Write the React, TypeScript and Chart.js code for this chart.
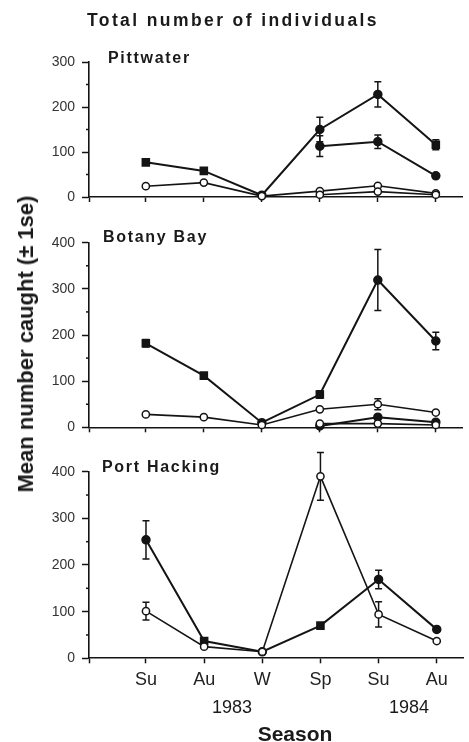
import React, { useEffect, useRef } from 'react';
import { Chart, registerables } from 'chart.js';

Chart.register(...registerables);

// ---------------- data ----------------
const SEASONS = ['Su', 'Au', 'W', 'Sp', 'Su', 'Au'];
const YEARS = ['1983', '1984'];
const TITLE = 'Total number of individuals';
const Y_TITLE = 'Mean number caught (\u00b1 1se)';
const X_TITLE = 'Season';
const PANEL_NAMES = ['Pittwater', 'Botany Bay', 'Port Hacking'];
const PANEL_MAX = [300, 400, 400];

// Pittwater
const PW_FILLED_A = [77, 58, 4, 150, 228, 116];
const PW_FILLED_A_SE = [6, 4, 0, 27, 28, 11];
const PW_FILLED_B = [null, null, null, 113, 123, 47];
const PW_FILLED_B_SE = [0, 0, 0, 23, 15, 3];
const PW_OPEN_A = [24, 32, 2, 13, 25, 8];
const PW_OPEN_A_SE = [0, 0, 0, 0, 0, 0];
const PW_OPEN_B = [null, null, null, 5, 12, 5];
const PW_OPEN_B_SE = [0, 0, 0, 0, 0, 0];

// Botany Bay
const BB_FILLED_A = [182, 112, 10, 71, 319, 187];
const BB_FILLED_A_SE = [8, 3, 0, 8, 66, 19];
const BB_FILLED_B = [null, null, null, 3, 22, 11];
const BB_FILLED_B_SE = [0, 0, 0, 0, 0, 0];
const BB_OPEN_A = [28, 22, 5, 39, 50, 32];
const BB_OPEN_A_SE = [0, 0, 0, 0, 12, 0];
const BB_OPEN_B = [null, null, null, 8, 8, 5];
const BB_OPEN_B_SE = [0, 0, 0, 0, 0, 0];

// Port Hacking
const PH_FILLED = [254, 37, 14, 70, 169, 62];
const PH_FILLED_SE = [41, 0, 0, 5, 20, 0];
const PH_OPEN = [101, 25, 14, 390, 94, 37];
const PH_OPEN_SE = [19, 0, 0, 51, 27, 0];

// marker shapes of the filled series (styling only)
const PW_FILLED_A_SHAPE = ['rect', 'rect', 'circle', 'circle', 'circle', 'rect'];
const BB_FILLED_A_SHAPE = ['rect', 'rect', 'circle', 'rect', 'circle', 'circle'];
const PH_FILLED_SHAPE = ['circle', 'rect', 'circle', 'rect', 'circle', 'circle'];

// ---------------- layout ----------------
const W = 469;
const X_MIN = -0.98;
const X_MAX = 5.46;
const Y_AXIS_X = 89;
const FONT = "'Liberation Sans', Arial, Helvetica, sans-serif";
const INK = '#141414';

type Series = { values: (number | null)[]; se: number[]; filled: boolean; shape?: string[] };

const errorBarPlugin = {
  id: 'errbars',
  beforeDatasetsDraw(chart: any) {
    const { ctx, scales } = chart;
    const x = scales.x;
    const y = scales.y;
    ctx.save();
    ctx.strokeStyle = INK;
    ctx.lineWidth = 1.5;
    chart.data.datasets.forEach((ds: any) => {
      const se: number[] = ds.se || [];
      ds.data.forEach((pt: any) => {
        const e = se[pt.x];
        if (!e) return;
        const px = x.getPixelForValue(pt.x);
        const top = y.getPixelForValue(pt.y + e);
        const bot = y.getPixelForValue(pt.y - e);
        ctx.beginPath();
        ctx.moveTo(px, top);
        ctx.lineTo(px, bot);
        ctx.moveTo(px - 3.5, top);
        ctx.lineTo(px + 3.5, top);
        ctx.moveTo(px - 3.5, bot);
        ctx.lineTo(px + 3.5, bot);
        ctx.stroke();
      });
    });
    ctx.restore();
  },
  afterDraw(chart: any) {
    const { ctx, scales } = chart;
    const y = scales.y;
    ctx.save();
    ctx.strokeStyle = INK;
    ctx.lineWidth = 1.5;
    for (let v = 50; v < y.max; v += 100) {
      const py = y.getPixelForValue(v);
      ctx.beginPath();
      ctx.moveTo(y.right - 3, py);
      ctx.lineTo(y.right, py);
      ctx.stroke();
    }
    ctx.restore();
  },
};

function Panel(props: {
  top: number;
  height: number;
  areaTop: number;
  areaBottom: number;
  max: number;
  series: Series[];
  showLabels: boolean;
}) {
  const ref = useRef<HTMLCanvasElement | null>(null);
  useEffect(() => {
    const canvas = ref.current!;
    const xAxisHeight = props.height - (props.areaBottom - props.top);
    const padTop = props.areaTop - props.top;
    const datasets = props.series.map((s) => {
      const pts = s.values
        .map((v, i) => (v == null ? null : { x: i, y: v }))
        .filter((p) => p !== null) as { x: number; y: number }[];
      const shapes = pts.map((p) => (s.shape ? s.shape[p.x] : 'circle'));
      return {
        data: pts,
        se: s.se,
        borderColor: INK,
        borderWidth: s.filled ? 2 : 1.6,
        pointStyle: shapes,
        pointRadius: shapes.map((sh) => (sh === 'rect' ? 5 : s.filled ? 4 : 3.6)),
        pointHoverRadius: 4,
        pointBackgroundColor: s.filled ? INK : '#ffffff',
        pointBorderColor: INK,
        pointBorderWidth: 1.5,
        tension: 0,
        fill: false,
        clip: false as any,
      };
    });
    const chart = new Chart(canvas, {
      type: 'line',
      data: { datasets: datasets as any },
      plugins: [errorBarPlugin],
      options: {
        responsive: false,
        animation: false,
        events: [],
        layout: { padding: { top: padTop, left: 0, right: 0, bottom: 0 } },
        plugins: { legend: { display: false }, tooltip: { enabled: false }, title: { display: false } },
        scales: {
          x: {
            type: 'linear',
            min: X_MIN,
            max: X_MAX,
            afterBuildTicks: (s: any) => {
              s.ticks = [X_MIN, 0, 1, 2, 3, 4, 5].map((v) => ({ value: v }));
            },
            afterFit: (s: any) => {
              s.height = xAxisHeight;
              s.paddingLeft = 0;
              s.paddingRight = 0;
            },
            grid: {
              display: true,
              drawOnChartArea: false,
              drawTicks: true,
              tickLength: 5,
              tickWidth: 1.5,
              tickColor: INK,
            },
            border: { display: true, color: INK, width: 1.6 },
            ticks: {
              autoSkip: false,
              maxRotation: 0,
              padding: 6,
              color: '#222',
              font: { family: FONT, size: 18 },
              callback: (v: any) => {
                const i = Math.round(Number(v));
                if (!props.showLabels) return '';
                if (Math.abs(Number(v) - i) > 1e-6 || i < 0 || i > 5) return '';
                return SEASONS[i];
              },
            },
          },
          y: {
            type: 'linear',
            min: 0,
            max: props.max,
            afterFit: (s: any) => {
              s.width = Y_AXIS_X;
              s.paddingTop = 0;
              s.paddingBottom = 0;
            },
            grid: {
              display: true,
              drawOnChartArea: false,
              drawTicks: true,
              tickLength: 7,
              tickWidth: 1.5,
              tickColor: (c: any) =>
                c.tick && c.tick.value % 100 === 0 ? INK : 'rgba(0,0,0,0)',
            },
            border: { display: true, color: INK, width: 1.6 },
            ticks: {
              stepSize: 50,
              autoSkip: false,
              padding: 7,
              color: '#333',
              font: { family: FONT, size: 14 },
              callback: (v: any) => (Number(v) % 100 === 0 ? String(v) : ''),
            },
          },
        },
      } as any,
    });
    return () => chart.destroy();
  }, []);
  return (
    <canvas
      ref={ref}
      width={W}
      height={props.height}
      style={{ position: 'absolute', left: 0, top: props.top, display: 'block' }}
    />
  );
}

const textBase: React.CSSProperties = {
  position: 'absolute',
  fontFamily: FONT,
  color: '#1a1a1a',
  lineHeight: 1,
  whiteSpace: 'nowrap',
  margin: 0,
};

function Label(props: { text: string; left: number; baseline: number; size: number; bold?: boolean; spacing?: number; center?: boolean }) {
  const top = props.baseline - 0.8465 * props.size;
  return (
    <div
      style={{
        ...textBase,
        left: props.left,
        top,
        fontSize: props.size,
        fontWeight: props.bold ? 'bold' : 'normal',
        letterSpacing: props.spacing ? props.spacing + 'px' : 'normal',
        transform: props.center ? 'translateX(-50%)' : undefined,
      }}
    >
      {props.text}
    </div>
  );
}

export default function App() {
  const pw: Series[] = [
    { values: PW_OPEN_B, se: PW_OPEN_B_SE, filled: false },
    { values: PW_OPEN_A, se: PW_OPEN_A_SE, filled: false },
    { values: PW_FILLED_B, se: PW_FILLED_B_SE, filled: true },
    { values: PW_FILLED_A, se: PW_FILLED_A_SE, filled: true, shape: PW_FILLED_A_SHAPE },
  ];
  const bb: Series[] = [
    { values: BB_OPEN_B, se: BB_OPEN_B_SE, filled: false },
    { values: BB_OPEN_A, se: BB_OPEN_A_SE, filled: false },
    { values: BB_FILLED_B, se: BB_FILLED_B_SE, filled: true },
    { values: BB_FILLED_A, se: BB_FILLED_A_SE, filled: true, shape: BB_FILLED_A_SHAPE },
  ];
  const ph: Series[] = [
    { values: PH_OPEN, se: PH_OPEN_SE, filled: false },
    { values: PH_FILLED, se: PH_FILLED_SE, filled: true, shape: PH_FILLED_SHAPE },
  ];
  const yTitleSize = 22;
  return (
    <div style={{ position: 'absolute', left: 0, top: 0, width: W, height: 742, overflow: 'hidden', background: '#fff' }}>
      <Panel top={0} height={212} areaTop={62} areaBottom={197} max={PANEL_MAX[0]} series={pw} showLabels={false} />
      <Panel top={212} height={230} areaTop={242.7} areaBottom={427.3} max={PANEL_MAX[1]} series={bb} showLabels={false} />
      <Panel top={442} height={300} areaTop={471.7} areaBottom={658.3} max={PANEL_MAX[2]} series={ph} showLabels={true} />

      <Label text={TITLE} left={87} baseline={27} size={17.5} bold spacing={2.4} />
      <Label text={PANEL_NAMES[0]} left={108} baseline={64} size={16} bold spacing={1.7} />
      <Label text={PANEL_NAMES[1]} left={103} baseline={243} size={16} bold spacing={1.7} />
      <Label text={PANEL_NAMES[2]} left={102} baseline={473} size={16} bold spacing={1.7} />
      <Label text={YEARS[0]} left={232} baseline={713.3} size={18} center />
      <Label text={YEARS[1]} left={409} baseline={713.3} size={18} center />
      <Label text={X_TITLE} left={295} baseline={741} size={21} bold center />
      <div
        style={{
          ...textBase,
          left: 33.3 - (0.8465 * yTitleSize - yTitleSize / 2),
          top: 344,
          fontSize: yTitleSize,
          fontWeight: 'bold',
          transform: 'translate(-50%, -50%) rotate(-90deg)',
        }}
      >
        {Y_TITLE}
      </div>
    </div>
  );
}
